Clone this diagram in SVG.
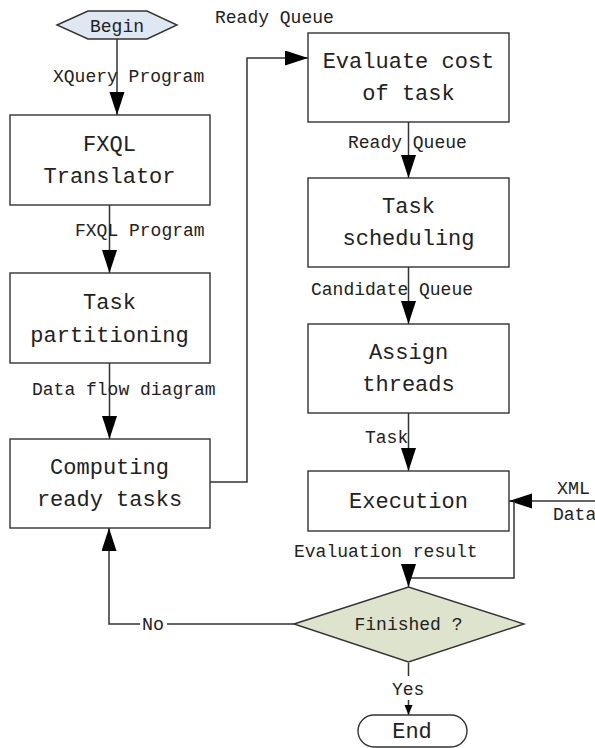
<svg xmlns="http://www.w3.org/2000/svg" width="595" height="748" viewBox="0 0 595 748">
<style>
.box{fill:#fff;stroke:#333;stroke-width:1.4}
.t{font-family:"Liberation Mono","DejaVu Sans Mono",monospace;font-size:22px;fill:#222;text-anchor:middle}
.l{font-family:"Liberation Mono","DejaVu Sans Mono",monospace;font-size:18px;fill:#222}
.c{fill:none;stroke:#333;stroke-width:1.5}
</style>
<defs>
<marker id="a" markerUnits="userSpaceOnUse" markerWidth="24" markerHeight="16" refX="23" refY="7.5" orient="auto"><path d="M0,0 L23,7.5 L0,15 z" fill="#000"/></marker>
<marker id="s" markerUnits="userSpaceOnUse" markerWidth="11" markerHeight="9" refX="10" refY="4" orient="auto"><path d="M0,0 L10,4 L0,8 z" fill="#000"/></marker>
</defs>
<g id="connectors">
<path class="c" d="M117,39 V115" marker-end="url(#a)"/>
<path class="c" d="M109.5,205 V273" marker-end="url(#a)"/>
<path class="c" d="M109.5,363 V439" marker-end="url(#a)"/>
<path class="c" d="M210,482 H247 V58 H308" marker-end="url(#a)"/>
<path class="c" d="M408.5,122 V178" marker-end="url(#a)"/>
<path class="c" d="M408.5,267 V324" marker-end="url(#a)"/>
<path class="c" d="M408.5,413 V471" marker-end="url(#a)"/>
<path class="c" d="M595,501 H509" marker-end="url(#a)"/>
<path class="c" d="M514,501 V578 H408.5 V587" marker-end="url(#a)"/>
<path class="c" d="M294,624 H109 V528" marker-end="url(#a)"/>
<path class="c" d="M408.5,663 V715" marker-end="url(#s)"/>
<text class="l" x="215" y="23">Ready Queue</text>
<text class="l" x="53" y="82">XQuery Program</text>
<text class="l" x="75" y="236">FXQL Program</text>
<text class="l" x="32" y="395">Data flow diagram</text>
<text class="l" x="348" y="148">Ready Queue</text>
<text class="l" x="311" y="295">Candidate Queue</text>
<text class="l" x="365" y="443">Task</text>
<text class="l" x="294" y="557">Evaluation result</text>
<text class="l" x="557" y="494" textLength="33" lengthAdjust="spacingAndGlyphs">XML</text>
<text class="l" x="553" y="520">Data</text>
<rect x="140" y="614" width="27" height="20" fill="#fff"/>
<text class="l" x="142" y="630" textLength="22" lengthAdjust="spacingAndGlyphs">No</text>
<rect x="390" y="676" width="37" height="24" fill="#fff"/>
<text class="l" x="392" y="695">Yes</text>
</g>
<g id="begin">
<polygon points="57,25 88,11 147,11 177,25 147,39 88,39" fill="#dfe7f3" stroke="#333" stroke-width="1.4"/>
<text class="l" x="117" y="32" text-anchor="middle">Begin</text>
</g>
<g id="translator">
<rect class="box" x="10" y="115" width="200" height="90"/>
<text class="t" x="109.5" y="150.5">FXQL</text>
<text class="t" x="109.5" y="183">Translator</text>
</g>
<g id="partitioning">
<rect class="box" x="10" y="273" width="200" height="90"/>
<text class="t" x="109.5" y="309">Task</text>
<text class="t" x="109.5" y="342">partitioning</text>
</g>
<g id="computing">
<rect class="box" x="10" y="439" width="200" height="89"/>
<text class="t" x="109.5" y="474">Computing</text>
<text class="t" x="109.5" y="506">ready tasks</text>
</g>
<g id="evaluate">
<rect class="box" x="308" y="33" width="201" height="89"/>
<text class="t" x="408.5" y="68">Evaluate cost</text>
<text class="t" x="408.5" y="100">of task</text>
</g>
<g id="scheduling">
<rect class="box" x="308" y="178" width="201" height="89"/>
<text class="t" x="408.5" y="213">Task</text>
<text class="t" x="408.5" y="245">scheduling</text>
</g>
<g id="assign">
<rect class="box" x="308" y="324" width="201" height="89"/>
<text class="t" x="408.5" y="359">Assign</text>
<text class="t" x="408.5" y="391">threads</text>
</g>
<g id="execution">
<rect class="box" x="308" y="471" width="201" height="60"/>
<text class="t" x="408.5" y="508">Execution</text>
</g>
<g id="finished">
<polygon points="294,624 408.5,587 524,624 408.5,662" fill="#dde3cc" stroke="#333" stroke-width="1.4"/>
<text class="l" x="408.5" y="630" text-anchor="middle">Finished ?</text>
</g>
<g id="end">
<rect class="box" x="358" y="715" width="109" height="32" rx="16"/>
<text class="t" x="412" y="738">End</text>
</g>
</svg>
